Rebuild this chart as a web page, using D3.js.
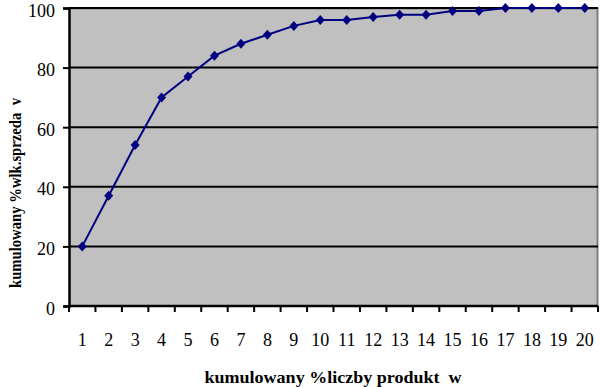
<!DOCTYPE html>
<html>
<head>
<meta charset="utf-8">
<script src="https://cdn.jsdelivr.net/npm/d3@7"></script>
<style>
  body { margin: 0; background: #fff; }
  text { font-family: "Liberation Serif", "Times New Roman", serif; }
</style>
</head>
<body>
<script>
// data
var products = d3.range(1, 21);
var cumShare = [20, 37, 54, 70, 77, 84, 88, 91, 94, 96, 96, 97, 97.7, 97.7, 99, 99, 100, 100, 100, 100];
var yTicks = [0, 20, 40, 60, 80, 100];

var margin = {top: 8, right: 2, bottom: 81, left: 69};
var width = 600 - margin.left - margin.right;
var height = 387 - margin.top - margin.bottom;

var svg = d3.select('body')
  .append('svg')
  .attr('width', 600)
  .attr('height', 387);

var g = svg.append('g')
  .attr('transform', 'translate(' + margin.left + ',' + margin.top + ')');

var xScale = d3.scaleBand()
  .domain(products)
  .range([0, width])
  .padding(0);

var yScale = d3.scaleLinear()
  .domain([0, 100])
  .range([height, 0]);

// plot background
g.append('rect')
  .attr('width', width)
  .attr('height', height)
  .attr('fill', '#c0c0c0');

// top/right border, grey
g.append('path')
  .attr('d', 'M0,0.5H' + (width - 0.5) + 'V' + height)
  .attr('fill', 'none')
  .attr('stroke', '#808080')
  .attr('stroke-width', 2);

// gridlines
g.selectAll('.grid')
  .data(yTicks.filter(function(d){ return d > 0; }))
  .enter().append('line')
  .attr('class', 'grid')
  .attr('x1', 0)
  .attr('x2', width)
  .attr('y1', function(d){ return yScale(d); })
  .attr('y2', function(d){ return yScale(d); })
  .attr('stroke', '#000')
  .attr('stroke-width', 2);

// y axis
var yAxis = d3.axisLeft(yScale)
  .tickValues(yTicks)
  .tickSize(6)
  .tickPadding(8);

var yg = g.append('g').call(yAxis);
yg.select('.domain').attr('stroke-width', 2.5);
yg.selectAll('.tick line').attr('stroke-width', 2);
yg.selectAll('.tick text')
  .attr('font-size', 18)
  .attr('dy', '0.45em')
  .attr('font-family', '"Liberation Serif", serif')
  .attr('fill', '#000');

// x axis: ticks on band boundaries
var xg = g.append('g')
  .attr('transform', 'translate(0,' + height + ')');

xg.append('line')
  .attr('x1', 0).attr('x2', width)
  .attr('stroke', '#000')
  .attr('stroke-width', 2.5);

xg.selectAll('.xtick')
  .data(products.concat([21]))
  .enter().append('line')
  .attr('class', 'xtick')
  .attr('x1', function(d){ return d <= 20 ? xScale(d) : width; })
  .attr('x2', function(d){ return d <= 20 ? xScale(d) : width; })
  .attr('y1', 0)
  .attr('y2', 6)
  .attr('stroke', '#000')
  .attr('stroke-width', 2);

xg.selectAll('.xlabel')
  .data(products)
  .enter().append('text')
  .attr('class', 'xlabel')
  .attr('x', function(d){ return xScale(d) + xScale.bandwidth() / 2; })
  .attr('y', 40)
  .attr('text-anchor', 'middle')
  .attr('font-size', 18)
  .text(function(d){ return d; });

// line + markers
var line = d3.line()
  .x(function(d, i){ return xScale(products[i]) + xScale.bandwidth() / 2; })
  .y(function(d){ return yScale(d); });

g.append('path')
  .datum(cumShare)
  .attr('d', line)
  .attr('fill', 'none')
  .attr('stroke', '#000080')
  .attr('stroke-width', 2);

g.selectAll('.marker')
  .data(cumShare)
  .enter().append('path')
  .attr('class', 'marker')
  .attr('d', 'M0,-5L4.5,0L0,5L-4.5,0Z')
  .attr('transform', function(d, i){
    return 'translate(' + (xScale(products[i]) + xScale.bandwidth() / 2) + ',' + yScale(d) + ')';
  })
  .attr('fill', '#000080');

// axis titles
svg.append('text')
  .attr('x', 333)
  .attr('y', 383)
  .attr('text-anchor', 'middle')
  .attr('font-size', 17)
  .attr('font-weight', 'bold')
  .attr('textLength', 257)
  .attr('lengthAdjust', 'spacingAndGlyphs')
  .style('white-space', 'pre')
  .text('kumulowany %liczby produkt  w');

svg.append('text')
  .attr('transform', 'translate(21,193) rotate(-90)')
  .attr('text-anchor', 'middle')
  .attr('font-size', 17)
  .attr('font-weight', 'bold')
  .attr('textLength', 190)
  .attr('lengthAdjust', 'spacingAndGlyphs')
  .style('white-space', 'pre')
  .text('kumulowany %wlk.sprzeda  v');
</script>
</body>
</html>
